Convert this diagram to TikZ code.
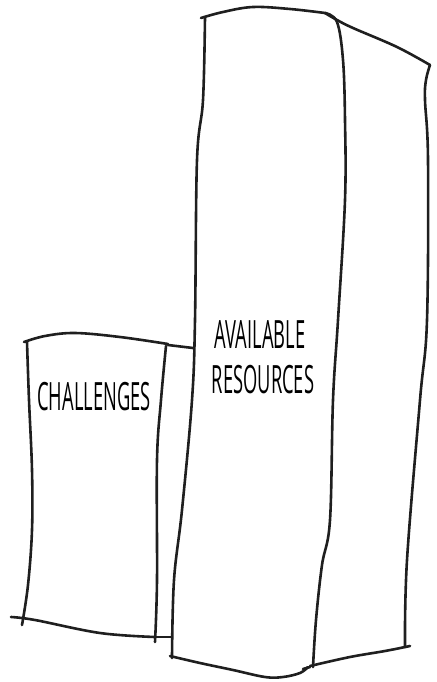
\documentclass[tikz,border=0pt]{standalone}
\usepackage{fontspec}
\setmainfont{Open Sans}
\usepackage{tikz}

\tikzset{
    sketch/.style={line width=2.6pt, line cap=round, line join=round, color=black!88},
    label/.style={font=\fontsize{39}{48}\selectfont, xscale=0.47, inner sep=0pt, align=center}
}

\begin{document}
\begin{tikzpicture}[x=1pt, y=-1pt]

\useasboundingbox (0,0) rectangle (436,682);

% Small column: top edge and joint to big column
\draw[sketch] plot[smooth, tension=0.6] coordinates {(24,342) (45,336) (75,333) (120,337) (168,344)};
\draw[sketch] (168,345) -- (193,348);

% Small column: sides
\draw[sketch] plot[smooth, tension=0.6] coordinates {(27,342) (29,400) (32,470) (32,530) (28,585) (22,625)};
\draw[sketch] plot[smooth, tension=0.6] coordinates {(166,346) (161,400) (157,460) (157,580) (155,642)};

% Small column: bottom edge
\draw[sketch] plot[smooth, tension=0.6] coordinates {(11,617) (35,620) (100,633) (155,637)};
\draw[sketch] (155,637) -- (172,637);

% Big column: front left edge
\draw[sketch] plot[smooth, tension=0.6] coordinates {(205,17) (203,100) (197,160) (195,320) (192,400) (182,510) (174,580) (172,658)};

% Big column: top
\draw[sketch] plot[smooth, tension=0.6] coordinates {(201,18) (223,12) (253,7) (290,9) (325,13)};
\draw[sketch] plot[smooth, tension=0.6] coordinates {(325,13) (337,20) (353,28) (397,47) (430,65)};

% Big column: front right edge
\draw[sketch] plot[smooth, tension=0.6] coordinates {(325,13) (337,22) (343,60) (345,120) (345,200) (338,320) (333,400) (330,520) (322,565) (316,620) (313,667)};

% Big column: side right edge
\draw[sketch] plot[smooth, tension=0.6] coordinates {(430,65) (426,80) (425,100) (428,160) (427,320) (420,400) (407,560) (405,647)};

% Big column: bottom
\draw[sketch] plot[smooth, tension=0.6] coordinates {(170,656) (200,663) (233,670) (265,677) (283,677) (300,673) (308,667)};
\draw[sketch] (303,669) -- (310,667);
\draw[sketch] plot[smooth, tension=0.6] coordinates {(310,666) (350,657) (385,651) (410,646)};

% Labels
\node[label] (challenges) at (94,397) {CHALLENGES};
\node[label] (available) at (260,335) {AVAILABLE};
\node[label] (resources) at (263,380) {RESOURCES};

\end{tikzpicture}
\end{document}
